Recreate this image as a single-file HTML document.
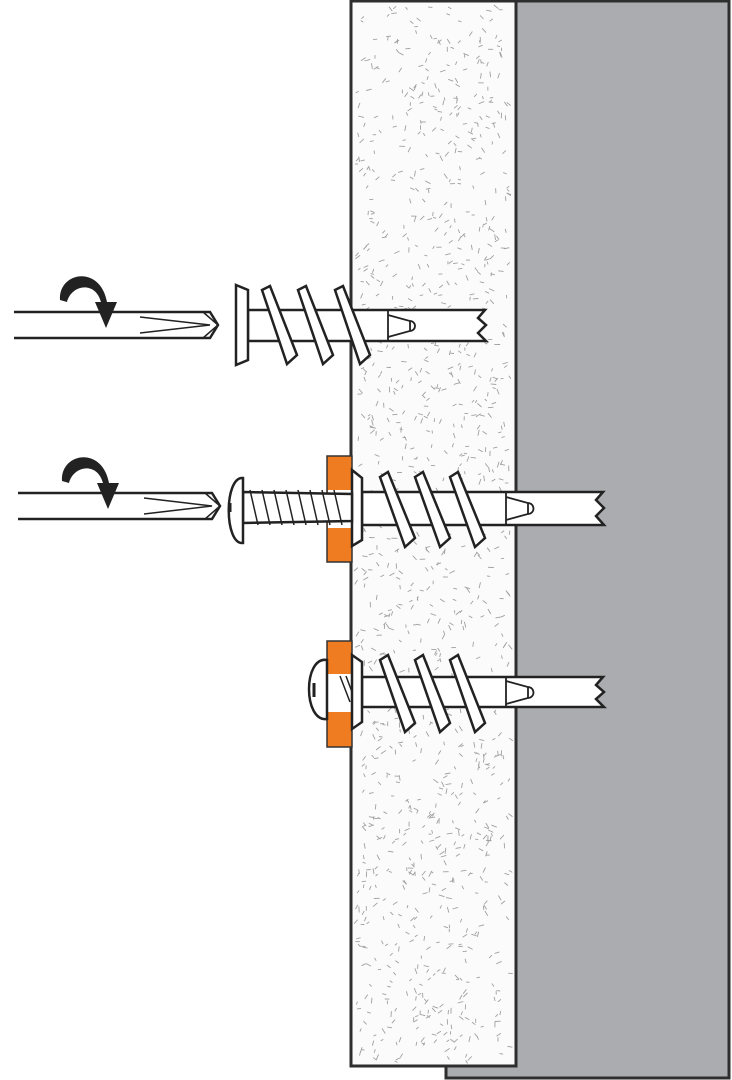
<!DOCTYPE html>
<html><head><meta charset="utf-8"><style>html,body{margin:0;padding:0;background:#fff}svg{display:block}</style></head>
<body>
<svg id="s" width="732" height="1080" viewBox="0 0 732 1080" xmlns="http://www.w3.org/2000/svg">
<rect x="446" y="1" width="283" height="1077" fill="#abacaf" stroke="#2e2e2e" stroke-width="3"/>
<rect x="351" y="1" width="165" height="1065" fill="#fbfbfb" stroke="#2e2e2e" stroke-width="3"/>
<g id="tex" stroke="#a0a0a0" stroke-width="0.9"></g>
<g fill="#fff" stroke="#222" stroke-width="2.5" stroke-linejoin="miter">
<!-- Screwdriver 1 -->
<path d="M14 312 H210 L218 325 L210 338 H14" fill="none"/>
<path d="M140 317 L210 325 L140 333 M203 312 L218 325 L203 338" fill="none" stroke-width="1.5"/>
<path d="M60 300 C58 272 100 264 107 302 L117 302 L106 328 L95 302 L101 302 C95 280 71 285 67 302 Z" fill="#222" stroke="none"/>
<!-- Screw 1 -->
<path d="M248 310 H485 L478 318 L486 325 L478 333 L486 341 H248 Z"/>
<path d="M236 285 L248 290 V360 L236 365 Z"/>
<path d="M262 290 L270 286 L297 355 L287 364 Z M298 290 L306 286 L333 355 L323 364 Z M335 290 L343 286 L370 355 L360 364 Z"/>
<path d="M388 311 V340 M388 315 L410 321 V331 L388 337 M410 321 A5 5 0 0 1 410 331" fill="none" stroke-width="1.8"/>
<!-- Screwdriver 2 -->
<path d="M18 493 H212 L220 506 L212 519 H18" fill="none"/>
<path d="M144 498 L212 506 L144 514 M205 493 L220 506 L205 519" fill="none" stroke-width="1.5"/>
<path d="M62 481 C60 453 102 445 109 483 L119 483 L108 509 L97 483 L103 483 C97 461 73 466 69 483 Z" fill="#222" stroke="none"/>
<!-- Screw 2 -->
<rect x="327" y="456" width="25" height="106" fill="#f07c22" stroke="#333" stroke-width="1.5"/>
<rect x="328" y="490" width="23" height="38" fill="#fff" stroke="none"/>
<path d="M362 492 H603 L596 500 L604 508 L596 516 L604 525 H362 Z"/>
<path d="M352 470 L362 478 V540 L352 546 Z"/>
<path d="M380 477 L388 472 L415 538 L405 547 Z M415 477 L423 472 L450 538 L440 547 Z M450 477 L458 472 L485 538 L475 547 Z"/>
<path d="M506 493 V524 M506 497 L528 503 V514 L506 520 M528 503 A5 5 0 0 1 528 514" fill="none" stroke-width="1.8"/>
<path d="M243 492 L352 494 V521 L243 523 Z"/>
<path d="M250 490 l8 35 M262 490 l8 35 M274 490 l8 35 M286 490 l8 35 M298 490 l8 35 M310 490 l8 35 M322 490 l8 35 M334 490 l8 35" fill="none" stroke-width="1.5"/>
<path d="M243 478 C224 476 224 545 243 543 V478 Z"/>
<path d="M230 503 V512" stroke-width="3"/>
<!-- Screw 3 -->
<rect x="327" y="641" width="25" height="106" fill="#f07c22" stroke="#333" stroke-width="1.5"/>
<rect x="328" y="674" width="23" height="38" fill="#fff" stroke="none"/>
<path d="M362 677 H603 L596 685 L604 692 L596 699 L604 707 H362 Z"/>
<path d="M352 655 L362 662 V722 L352 729 Z"/>
<path d="M380 660 L388 655 L415 723 L405 732 Z M415 660 L423 655 L450 723 L440 732 Z M450 660 L458 655 L485 723 L475 732 Z"/>
<path d="M506 677 V707 M506 681 L528 687 V698 L506 704 M528 687 A5 5 0 0 1 528 698" fill="none" stroke-width="1.8"/>
<path d="M327 660 C303 656 303 722 327 719 Z"/>
<path d="M314 683 V697" stroke-width="3"/>
<path d="M340 676 l10 26 M346 676 l6 16" fill="none" stroke-width="1.5"/>
</g>
</svg>
<script>
(function(){var g=document.getElementById('tex'),s=1234567,r=function(){s=(s*16807)%2147483647;return s/2147483647;},h='';
for(var i=0;i<1300;i++){var x=357+r()*153,y=5+r()*1056,a=r()*Math.PI,l=3+r()*3;
h+='<line x1="'+x.toFixed(1)+'" y1="'+y.toFixed(1)+'" x2="'+(x+Math.cos(a)*l).toFixed(1)+'" y2="'+(y+Math.sin(a)*l).toFixed(1)+'"/>';}
g.innerHTML=h;})();
</script>
</body></html>
